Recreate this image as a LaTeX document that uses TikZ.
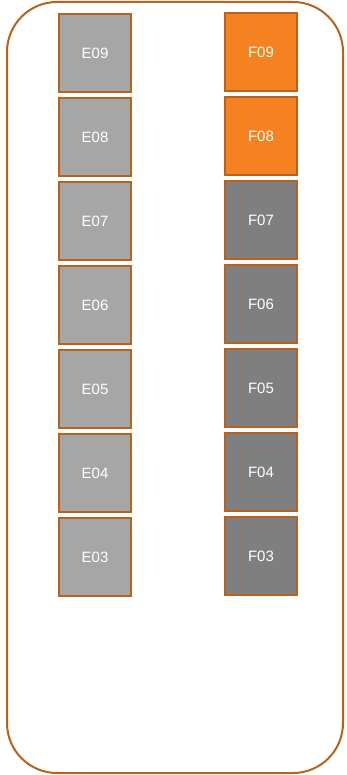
\documentclass[tikz,border=0pt]{standalone}
\usepackage{fontspec}
\setmainfont{Liberation Sans}
\definecolor{rim}{HTML}{B8621B}
\definecolor{slotgray}{HTML}{A6A6A6}
\definecolor{slotdark}{HTML}{7F7F7F}
\definecolor{slotorange}{HTML}{F58220}
\tikzset{
  slot/.style={draw=rim, line width=2pt, minimum width=72pt, minimum height=78pt,
    inner sep=0pt, text=white, font=\fontsize{15}{17}\selectfont},
}

\begin{document}
\begin{tikzpicture}[x=1pt, y=-1pt]
  \useasboundingbox (0,0) rectangle (347,775);
  \draw[rim, line width=2pt, rounded corners=50pt] (7,2) rectangle (343,773);

  % left column
  \foreach \n [count=\i from 0] in {09,08,07,06,05,04,03}
    \node[slot, fill=slotgray] (E\n) at (95,53+84*\i) {E\n};

  % right column
  \foreach \n [count=\i from 0] in {09,08}
    \node[slot, fill=slotorange] (F\n) at (261,52+84*\i) {F\n};
  \foreach \n [count=\i from 2] in {07,06,05,04,03}
    \node[slot, fill=slotdark] (F\n) at (261,52+84*\i) {F\n};
\end{tikzpicture}
\end{document}
